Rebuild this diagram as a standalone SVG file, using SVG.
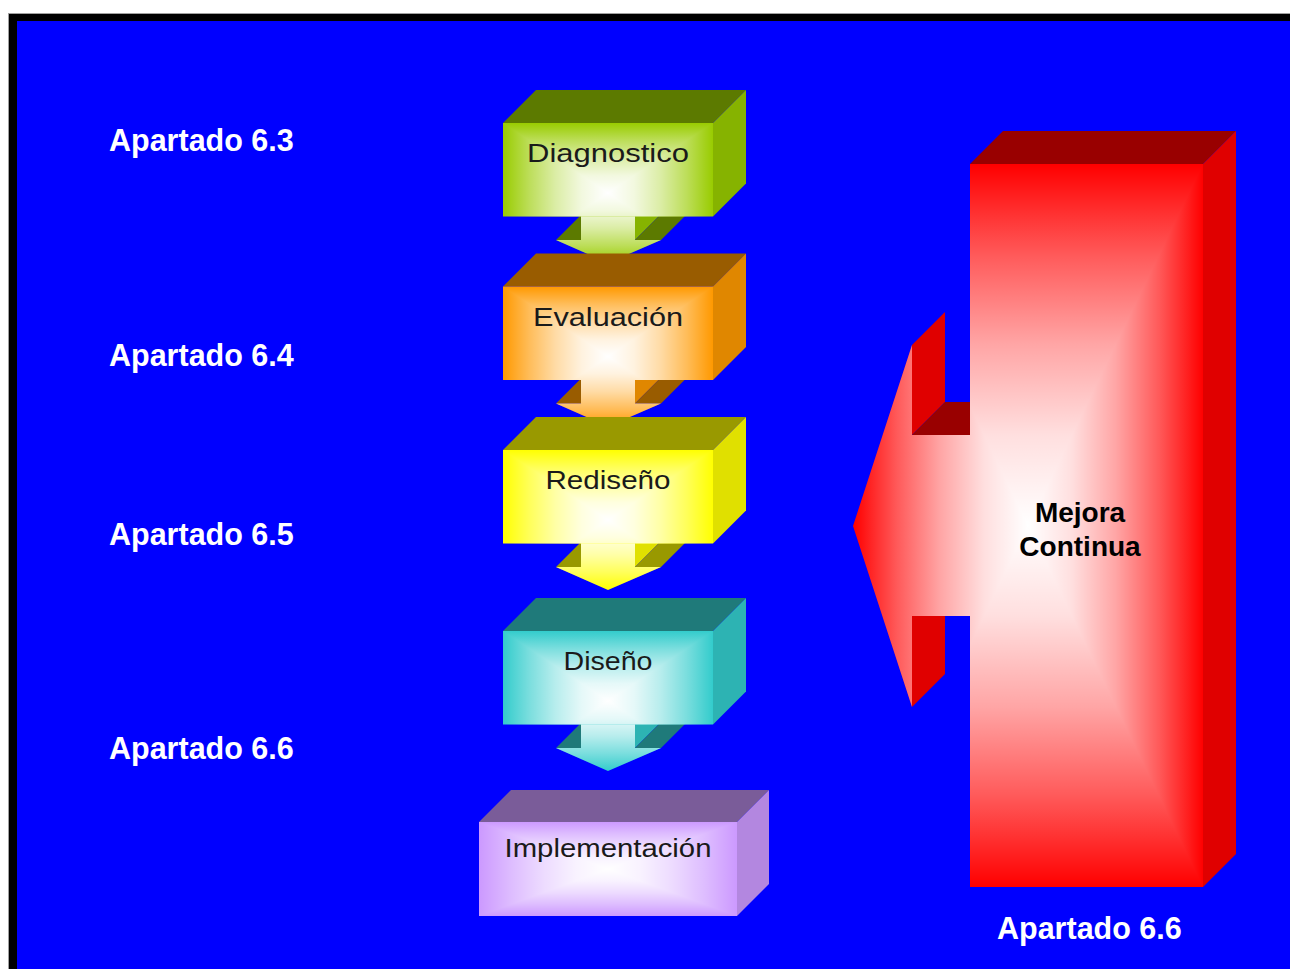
<svg xmlns="http://www.w3.org/2000/svg" width="1290" height="969" viewBox="0 0 1290 969">
  <style>
    .label{font-family:"Liberation Sans",Arial,sans-serif;font-weight:bold;font-size:30.5px;fill:#fff}
    .title{font-family:"Liberation Sans",Arial,sans-serif;font-size:26px;fill:#1a1a1a;text-anchor:middle}
    .mejora{font-family:"Liberation Sans",Arial,sans-serif;font-weight:bold;font-size:28px;fill:#000;text-anchor:middle}
    .glow polygon{shape-rendering:crispEdges}
    .green .front{fill:#99cc00} .green .top{fill:#5c7a00} .green .side{fill:#86b300}
    .orange .front{fill:#ff9900} .orange .top{fill:#995c00} .orange .side{fill:#e08700}
    .yellow .front{fill:#ffff00} .yellow .top{fill:#999900} .yellow .side{fill:#e0e000}
    .teal .front{fill:#33cccc} .teal .top{fill:#1f7a7a} .teal .side{fill:#2db3b3}
    .violet .front{fill:#cc99ff} .violet .top{fill:#7a5c99} .violet .side{fill:#b387e0}
    .red .front{fill:#ff0000} .red .top{fill:#990000} .red .side{fill:#e00000}
  </style>
  <defs>
    <!-- white highlight fading from the centre towards each edge -->
    <linearGradient id="fadeT" x1="0" y1="0" x2="0" y2="1">
      <stop offset="0" stop-color="#fff" stop-opacity="0"/>
      <stop offset=".25" stop-color="#fff" stop-opacity=".35"/>
      <stop offset=".5" stop-color="#fff" stop-opacity=".65"/>
      <stop offset=".75" stop-color="#fff" stop-opacity=".875"/>
      <stop offset="1" stop-color="#fff" stop-opacity="1"/>
    </linearGradient>
    <linearGradient id="fadeB" href="#fadeT" x1="0" y1="1" x2="0" y2="0"/>
    <linearGradient id="fadeL" href="#fadeT" x1="0" y1="0" x2="1" y2="0"/>
    <linearGradient id="fadeR" href="#fadeT" x1="1" y1="0" x2="0" y2="0"/>

    <!-- highlight for a down-arrow box (box + arrow bounding box 503..713 x 0..140) -->
    <g id="glowDown" class="glow">
      <polygon points="503,0 713,0 608,70" fill="url(#fadeT)"/>
      <polygon points="503,140 713,140 608,70" fill="url(#fadeB)"/>
      <polygon points="503,0 503,140 608,70" fill="url(#fadeL)"/>
      <polygon points="713,0 713,140 608,70" fill="url(#fadeR)"/>
    </g>
    <!-- highlight for the last, wider box -->
    <g id="glowWide" class="glow">
      <polygon points="479,0 737,0 608,47" fill="url(#fadeT)"/>
      <polygon points="479,94 737,94 608,47" fill="url(#fadeB)"/>
      <polygon points="479,0 479,94 608,47" fill="url(#fadeL)"/>
      <polygon points="737,0 737,94 608,47" fill="url(#fadeR)"/>
    </g>

    <clipPath id="clipDownArrow"><path d="M581,90H635V117H661L608,140L556,117H581Z"/></clipPath>
    <clipPath id="clipDownBox"><rect x="503" y="0" width="210" height="93.5"/></clipPath>
    <clipPath id="clipRed"><path d="M853,526L912,345V435H970V164H1203V887H970V616H912V707Z"/></clipPath>
  </defs>

  <!-- slide frame -->
  <rect x="0" y="0" width="1290" height="969" fill="#fff"/>
  <rect x="8.5" y="13.5" width="1300" height="1000" fill="#000" stroke="#a0a0a0" stroke-width="1"/>
  <rect x="17" y="21" width="1290" height="969" fill="#0000ff"/>

  <!-- down arrows between the stages -->
  <g id="connectors">
    <g id="arrow-diagnostico-evaluacion" class="green" transform="translate(0,123)">
      <polygon class="top" points="556,117 581,117 614,84 589,84"/>
      <polygon class="side" points="635,93.5 635,117 668,84 668,60.5"/>
      <polygon class="top" points="635,117 661,117 694,84 668,84"/>
      <path class="front" d="M581,90H635V117H661L608,140L556,117H581Z"/>
      <use href="#glowDown" clip-path="url(#clipDownArrow)"/>
    </g>
    <g id="arrow-evaluacion-rediseno" class="orange" transform="translate(0,286.5)">
      <polygon class="top" points="556,117 581,117 614,84 589,84"/>
      <polygon class="side" points="635,93.5 635,117 668,84 668,60.5"/>
      <polygon class="top" points="635,117 661,117 694,84 668,84"/>
      <path class="front" d="M581,90H635V117H661L608,140L556,117H581Z"/>
      <use href="#glowDown" clip-path="url(#clipDownArrow)"/>
    </g>
    <g id="arrow-rediseno-diseno" class="yellow" transform="translate(0,450)">
      <polygon class="top" points="556,117 581,117 614,84 589,84"/>
      <polygon class="side" points="635,93.5 635,117 668,84 668,60.5"/>
      <polygon class="top" points="635,117 661,117 694,84 668,84"/>
      <path class="front" d="M581,90H635V117H661L608,140L556,117H581Z"/>
      <use href="#glowDown" clip-path="url(#clipDownArrow)"/>
    </g>
    <g id="arrow-diseno-implementacion" class="teal" transform="translate(0,631)">
      <polygon class="top" points="556,117 581,117 614,84 589,84"/>
      <polygon class="side" points="635,93.5 635,117 668,84 668,60.5"/>
      <polygon class="top" points="635,117 661,117 694,84 668,84"/>
      <path class="front" d="M581,90H635V117H661L608,140L556,117H581Z"/>
      <use href="#glowDown" clip-path="url(#clipDownArrow)"/>
    </g>
  </g>

  <!-- stage boxes -->
  <g id="node-diagnostico" class="green" transform="translate(0,123)">
    <polygon class="top" points="503,0 536,-33 746,-33 713,0"/>
    <polygon class="side" points="713,0 746,-33 746,60.5 713,93.5"/>
    <rect class="front" x="503" y="0" width="210" height="93.5"/>
    <use href="#glowDown" clip-path="url(#clipDownBox)"/>
    <text class="title" x="608" y="39" textLength="162" lengthAdjust="spacingAndGlyphs">Diagnostico</text>
  </g>
  <g id="node-evaluacion" class="orange" transform="translate(0,286.5)">
    <polygon class="top" points="503,0 536,-33 746,-33 713,0"/>
    <polygon class="side" points="713,0 746,-33 746,60.5 713,93.5"/>
    <rect class="front" x="503" y="0" width="210" height="93.5"/>
    <use href="#glowDown" clip-path="url(#clipDownBox)"/>
    <text class="title" x="608" y="39.5" textLength="150" lengthAdjust="spacingAndGlyphs">Evaluación</text>
  </g>
  <g id="node-rediseno" class="yellow" transform="translate(0,450)">
    <polygon class="top" points="503,0 536,-33 746,-33 713,0"/>
    <polygon class="side" points="713,0 746,-33 746,60.5 713,93.5"/>
    <rect class="front" x="503" y="0" width="210" height="93.5"/>
    <use href="#glowDown" clip-path="url(#clipDownBox)"/>
    <text class="title" x="608" y="39" textLength="125" lengthAdjust="spacingAndGlyphs">Rediseño</text>
  </g>
  <g id="node-diseno" class="teal" transform="translate(0,631)">
    <polygon class="top" points="503,0 536,-33 746,-33 713,0"/>
    <polygon class="side" points="713,0 746,-33 746,60.5 713,93.5"/>
    <rect class="front" x="503" y="0" width="210" height="93.5"/>
    <use href="#glowDown" clip-path="url(#clipDownBox)"/>
    <text class="title" x="608" y="39" textLength="89" lengthAdjust="spacingAndGlyphs">Diseño</text>
  </g>
  <g id="node-implementacion" class="violet" transform="translate(0,822)">
    <polygon class="top" points="479,0 511,-32 769,-32 737,0"/>
    <polygon class="side" points="737,0 769,-32 769,62 737,94"/>
    <rect class="front" x="479" y="0" width="258" height="94"/>
    <use href="#glowWide"/>
    <text class="title" x="608" y="35" textLength="207" lengthAdjust="spacingAndGlyphs">Implementación</text>
  </g>

  <!-- continuous improvement block with left-pointing arrow -->
  <g id="node-mejora-continua" class="red">
    <polygon class="top" points="970,164 1003,131 1236,131 1203,164"/>
    <polygon class="side" points="1203,164 1236,131 1236,854 1203,887"/>
    <polygon class="side" points="912,345 945,312 945,402 912,435"/>
    <polygon class="top" points="912,435 945,402 1003,402 970,435"/>
    <polygon class="side" points="912,616 945,583 945,674 912,707"/>
    <path class="front" d="M853,526L912,345V435H970V164H1203V887H970V616H912V707Z"/>
    <g class="glow" clip-path="url(#clipRed)">
      <polygon points="853,164 1203,164 1028,525.5" fill="url(#fadeT)"/>
      <polygon points="853,887 1203,887 1028,525.5" fill="url(#fadeB)"/>
      <polygon points="853,164 853,887 1028,525.5" fill="url(#fadeL)"/>
      <polygon points="1203,164 1203,887 1028,525.5" fill="url(#fadeR)"/>
    </g>
    <text class="mejora" x="1080" y="522">Mejora</text>
    <text class="mejora" x="1080" y="556">Continua</text>
  </g>

  <!-- section references -->
  <g id="labels">
    <text id="label-6-3" class="label" x="109" y="151">Apartado 6.3</text>
    <text id="label-6-4" class="label" x="109" y="366">Apartado 6.4</text>
    <text id="label-6-5" class="label" x="109" y="545">Apartado 6.5</text>
    <text id="label-6-6" class="label" x="109" y="759">Apartado 6.6</text>
    <text id="label-6-6-mejora" class="label" x="997" y="939">Apartado 6.6</text>
  </g>
</svg>
